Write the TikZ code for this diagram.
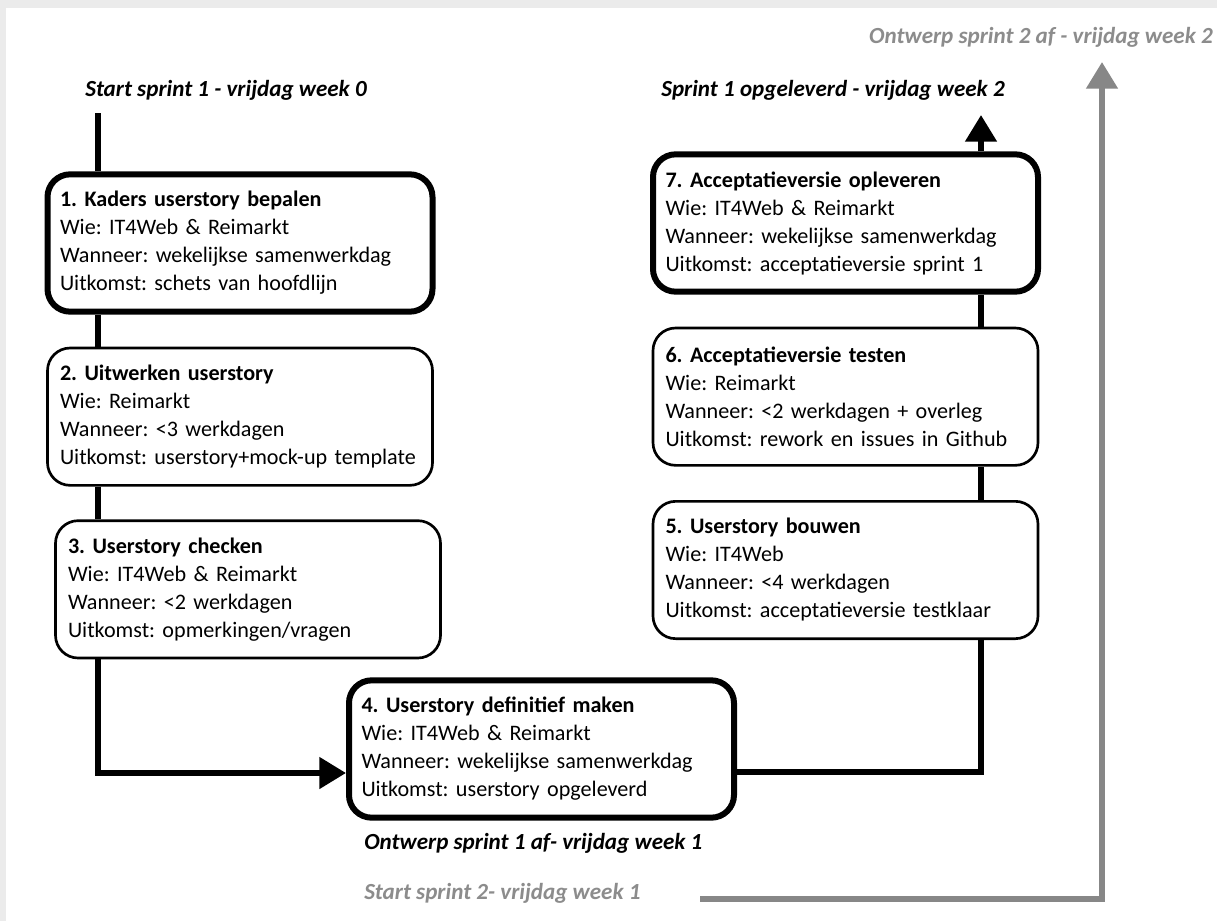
\documentclass[tikz,border=0pt]{standalone}
\usepackage{fontspec}
\setmainfont{Carlito}
\usepackage{xcolor}
\usepackage{tikz}
\usetikzlibrary{positioning, arrows.meta}

\definecolor{pagegray}{HTML}{EBEBEB}
\definecolor{linegray}{HTML}{878787}
\definecolor{labelgray}{HTML}{8C8C8C}

\frenchspacing
\hyphenpenalty=10000

\begin{document}
\begin{tikzpicture}[
  x=0.75pt, y=-0.75pt,
  font=\fontsize{16.6}{21}\selectfont,
  >={Triangle[length=20pt, width=23pt]},
  stepbox/.style={
    draw, line width=2pt, rounded corners=17pt, fill=white,
    minimum width=288.75pt, minimum height=103pt,
    text width=270pt, inner xsep=9pt, align=left
  },
  keybox/.style={stepbox, line width=4.5pt},
  flow/.style={line width=4.3pt},
  milestone/.style={font=\fontsize{17.3}{21}\selectfont\bfseries\itshape, inner sep=0pt}
]

% page background with grey band top and left
\useasboundingbox (0,0) rectangle (1217,921);
\fill[pagegray] (0,0) rectangle (1217,921);
\fill[white] (6,8) rectangle (1217,921);

% Left column: design steps 1-3
\node[keybox] (box1) at (240,243) {\textbf{1. Kaders userstory bepalen}\\Wie: IT4Web \& Reimarkt\\Wanneer: wekelijkse samenwerkdag\\Uitkomst: schets van hoofdlijn};
\node[stepbox, below=24pt of box1] (box2) {\textbf{2. Uitwerken userstory}\\Wie: Reimarkt\\Wanneer: <3 werkdagen\\Uitkomst: userstory+mock-up template};
\node[stepbox, below=24.5pt of box2, xshift=6pt] (box3) {\textbf{3. Userstory checken}\\Wie: IT4Web \& Reimarkt\\Wanneer: <2 werkdagen\\Uitkomst: opmerkingen/vragen};

% Bottom: step 4
\node[keybox] (box4) at (541.5,749) {\textbf{4. Userstory definitief maken}\\Wie: IT4Web \& Reimarkt\\Wanneer: wekelijkse samenwerkdag\\Uitkomst: userstory opgeleverd};

% Right column: build steps 5-7 (bottom to top)
\node[stepbox] (box5) at (845.5,570) {\textbf{5. Userstory bouwen}\\Wie: IT4Web\\Wanneer: <4 werkdagen\\Uitkomst: acceptatieversie testklaar};
\node[stepbox, above=25pt of box5] (box6) {\textbf{6. Acceptatieversie testen}\\Wie: Reimarkt\\Wanneer: <2 werkdagen + overleg\\Uitkomst: rework en issues in Github};
\node[keybox, above=24pt of box6] (box7) {\textbf{7. Acceptatieversie opleveren}\\Wie: IT4Web \& Reimarkt\\Wanneer: wekelijkse samenwerkdag\\Uitkomst: acceptatieversie sprint 1};

% Milestones
\node[milestone] (start1) at (226,90) {Start sprint 1 - vrijdag week 0};
\node[milestone] (done1) at (833,90) {Sprint 1 opgeleverd - vrijdag week 2};
\node[milestone, text=labelgray] (design2) at (1041,37) {Ontwerp sprint 2 af - vrijdag week 2};
\node[milestone, anchor=west] (design1) at (364,843) {Ontwerp sprint 1 af- vrijdag week 1};
\node[milestone, text=labelgray, anchor=west] (start2) at (364,893) {Start sprint 2- vrijdag week 1};

\coordinate (top1) at (98,113);
\coordinate (top2) at (981,115);
\coordinate (s2from) at (700,899);
\coordinate (s2to) at (1102,62);

% Sprint 1 flow
\draw[flow] (top1) -- (top1 |- box1.north);
\draw[flow] (box1.south -| top1) -- (box2.north -| top1);
\draw[flow] (box2.south -| top1) -- (box3.north -| top1);
\draw[flow, ->] (box3.south -| top1) |- ([yshift=-18pt]box4.west);
\draw[flow] ([yshift=-17pt]box4.east) -| (box5.south -| top2);
\draw[flow] (box5.north -| top2) -- (box6.south -| top2);
\draw[flow] (box6.north -| top2) -- (box7.south -| top2);
\draw[flow, ->] (box7.north -| top2) -- (top2);

% Sprint 2 line
\draw[flow, draw=linegray, ->] (s2from) -| (s2to);

\end{tikzpicture}
\end{document}
